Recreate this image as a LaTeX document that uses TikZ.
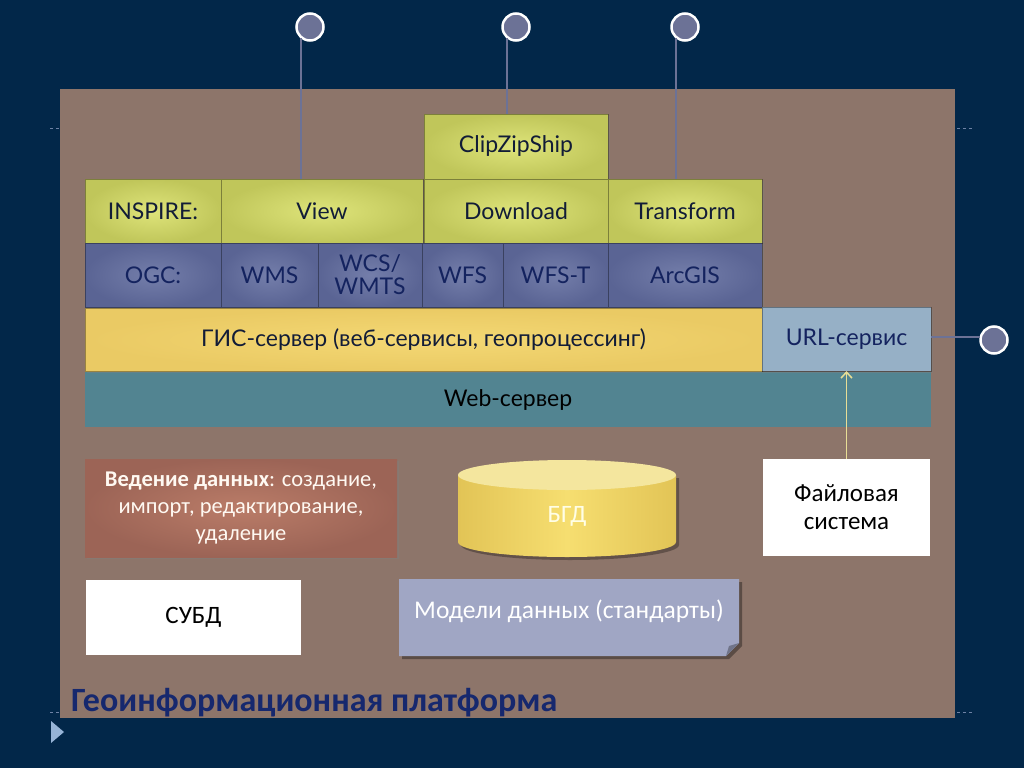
\documentclass[tikz,border=0pt]{standalone}
\usepackage{fontspec}
\setmainfont{Carlito}
\newfontfamily\gill{Lato}
\usetikzlibrary{shadows,arrows.meta}
\definecolor{bgc}{RGB}{2,39,73}
\definecolor{panelc}{RGB}{141,117,106}
\definecolor{ygin}{RGB}{222,228,122}
\definecolor{ygout}{RGB}{192,198,90}
\definecolor{blin}{RGB}{116,126,170}
\definecolor{blout}{RGB}{90,100,148}
\definecolor{gisc}{RGB}{234,202,100}
\definecolor{gisin}{RGB}{244,216,116}
\definecolor{urlc}{RGB}{150,176,198}
\definecolor{webc}{RGB}{82,132,145}
\definecolor{vedin}{RGB}{186,124,104}
\definecolor{vedout}{RGB}{156,100,86}
\definecolor{bgdside}{RGB}{226,196,86}
\definecolor{bgdmid}{RGB}{246,222,112}
\definecolor{bgdtop}{RGB}{244,230,158}
\definecolor{modc}{RGB}{160,166,196}
\definecolor{titlec}{RGB}{22,40,110}
\definecolor{circc}{RGB}{108,114,150}
\definecolor{txtc}{RGB}{18,28,55}
\definecolor{ogctxt}{RGB}{20,35,95}
\definecolor{arrc}{RGB}{232,222,150}
\definecolor{dashc}{RGB}{110,130,165}
\definecolor{triac}{RGB}{150,180,215}
\newcommand{\mybox}[7]{%
  \node[#6, anchor=north west, inner sep=0pt, outer sep=0pt,
        minimum width={(#4-#2)*1pt}, minimum height={(#5-#3)*1pt}]
        (#1) at (#2,#3) {#7};}
\begin{document}
\begin{tikzpicture}[x=1pt,y=-1pt,
  base/.style={align=center,
     drop shadow={shadow xshift=2pt, shadow yshift=-2pt, opacity=0.4}},
  edge/.style={draw=black, draw opacity=0.35, line width=1pt},
  topfont/.style={font=\gill\fontsize{23}{26}\selectfont},
  ygbox/.style={base, edge, topfont, inner color=ygin, outer color=ygout, text=txtc},
  blbox/.style={base, edge, topfont, inner color=blin, outer color=blout, text=ogctxt},
  gisbox/.style={base, edge, topfont, inner color=gisin, outer color=gisc, text=txtc},
  urlbox/.style={base, edge, topfont, fill=urlc, text=ogctxt},
  webbox/.style={topfont, fill=webc, text=black, align=center},
  vedbox/.style={base, inner color=vedin, outer color=vedout, text=white!95!orange, font=\fontsize{22.5}{27}\selectfont},
  whitebox/.style={fill=white, text=black, align=center, font=\fontsize{25}{28}\selectfont},
  circ/.style={circle, draw=white, line width=2.5pt, fill=circc, minimum size=27pt, inner sep=0pt},
  conn/.style={draw=circc, line width=2pt},
  dashl/.style={draw=dashc, line width=0.8pt, dash pattern=on 3pt off 3pt}
]
\useasboundingbox (0,0) rectangle (1024,768);
\fill[bgc] (0,0) rectangle (1024,768);
% panel
\fill[panelc] (60,89) rectangle (955,718);
\draw[dashl] (50,128) -- (60,128);
\draw[dashl] (957,128) -- (975,128);
\draw[dashl] (50,712) -- (60,712);
\draw[dashl] (957,712) -- (975,712);
\fill[triac] (51,721) -- (51,743) -- (64,732) -- cycle;
% top layers
\mybox{clip}{424}{114}{608}{179}{ygbox}{ClipZipShip}
\mybox{inspire}{85}{179}{221}{243}{ygbox}{INSPIRE:}
\mybox{view}{221}{179}{423}{243}{ygbox}{View}
\mybox{download}{424}{179}{608}{243}{ygbox}{Download}
\mybox{transform}{608}{179}{762}{243}{ygbox}{Transform}
\mybox{ogc}{85}{243}{221}{307}{blbox}{OGC:}
\mybox{wms}{221}{243}{318}{307}{blbox}{WMS}
\mybox{wcs}{318}{243}{422}{307}{blbox}{WCS/\\[-3pt]WMTS}
\mybox{wfs}{422}{243}{503}{307}{blbox}{WFS}
\mybox{wfst}{503}{243}{608}{307}{blbox}{WFS-T}
\mybox{arcgis}{608}{243}{762}{307}{blbox}{ArcGIS}
\mybox{web}{85}{372}{931}{427}{webbox}{Web-сервер}
\mybox{gis}{85}{308}{762}{371}{gisbox}{ГИС-сервер (веб-сервисы, геопроцессинг)}
\mybox{url}{762}{307}{931}{371}{urlbox}{URL-сервис}
% lower
\mybox{ved}{85}{459}{397}{557}{vedbox}{\textbf{Ведение данных}: создание,\\импорт, редактирование,\\удаление}
\mybox{fs}{763}{459}{930}{556}{whitebox}{Файловая\\система}
\mybox{subd}{86}{580}{301}{655}{whitebox}{СУБД}
% cylinder
\fill[black, opacity=0.3] (461,478) -- (461,545) arc[start angle=180, end angle=360, x radius=109, y radius=-15] -- (679,478) -- cycle;
\shade[left color=bgdside, right color=bgdside, middle color=bgdmid] (458,475) -- (458,542) arc[start angle=180, end angle=360, x radius=109, y radius=-15] -- (676,475) -- cycle;
\fill[bgdtop] (567,475) ellipse[x radius=109, y radius=15];
\node[text=white!90!yellow, font=\fontsize{25}{28}\selectfont] (bgd) at (567,516) {БГД};
% models folded box
\fill[black, opacity=0.35] (402,582) -- (742,582) -- (742,646) -- (729,659) -- (402,659) -- cycle;
\fill[modc] (399,579) -- (739,579) -- (739,643) -- (726,656) -- (399,656) -- cycle;
\fill[modc!70!black] (739,643) -- (726,656) -- (729,646) -- cycle;
\node[text=white, font=\fontsize{25.5}{28}\selectfont] (models) at (569,611) {Модели данных (стандарты)};
% title
\node[anchor=west, inner sep=0pt, text=titlec, font=\bfseries\fontsize{34}{38}\selectfont] (title) at (71,703) {Геоинформационная платформа};
% circles and connectors
\node[circ] (c1) at (310,27) {};
\node[circ] (c2) at (516,27) {};
\node[circ] (c3) at (685,27) {};
\node[circ] (c4) at (994,340) {};
\draw[conn] (c1.230) -- (c1.230 |- view.north);
\draw[conn] (c2.230) -- (c2.230 |- clip.north);
\draw[conn] (c3.230) -- (c3.230 |- transform.north);
\draw[conn] (c4.168) -- (c4.168 -| url.east);
% arrow
\draw[arrc, line width=1.5pt, -{Straight Barb[length=6pt, width=11pt]}] (fs.north) -- (url.south);
\end{tikzpicture}
\end{document}
